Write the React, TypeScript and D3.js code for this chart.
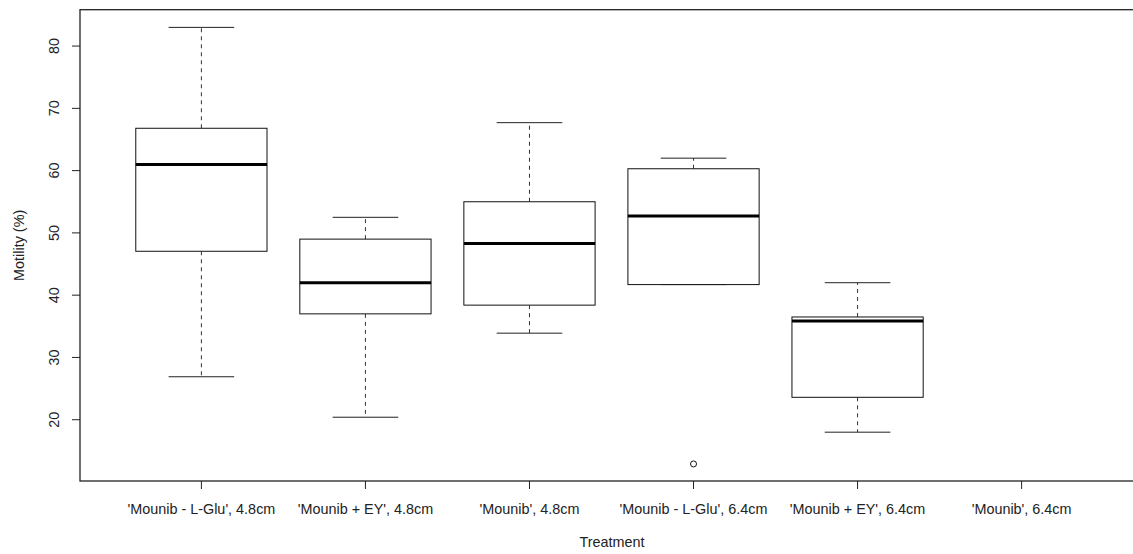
import * as d3 from "d3";

const categories = [
  "'Mounib - L-Glu', 4.8cm",
  "'Mounib + EY', 4.8cm",
  "'Mounib', 4.8cm",
  "'Mounib - L-Glu', 6.4cm",
  "'Mounib + EY', 6.4cm",
  "'Mounib', 6.4cm",
];

// five-number summaries (null = no data for the group)
const lowerWhisker = [26.9, 20.4, 33.9, 41.7, 18.0, null];
const lowerHinge = [47.05, 37.0, 38.4, 41.7, 23.6, null];
const medians = [61.0, 42.0, 48.3, 52.7, 35.85, null];
const upperHinge = [66.8, 49.0, 55.0, 60.3, 36.5, null];
const upperWhisker = [83.0, 52.5, 67.7, 62.0, 42.0, null];
const outliers = [[], [], [], [12.9], [], []];

const yTicks = [20, 30, 40, 50, 60, 70, 80];

const W = 1133;
const H = 554;
const FONT = "'Liberation Sans', Arial, sans-serif";
const FS = 14.4;

export default function App() {
  const x = d3.scaleLinear().domain([0.26, 6.74]).range([80, 1143]);
  const y = d3.scaleLinear().domain([10.16, 85.84]).range([481, 9.7]);
  const half = (x(1.4) - x(1)) ;
  const capHalf = half / 2;
  const plotLeft = x(0.26);
  const plotTop = y(85.84);
  const plotBottom = y(10.16);

  return (
    <svg
      width={W}
      height={H}
      style={{ position: "fixed", left: 0, top: 0, background: "#fff" }}
      fontFamily={FONT}
    >
      <rect x={0} y={0} width={W} height={H} fill="#fff" />
      {/* boxes */}
      {categories.map((c, i) => {
        const cx = x(i + 1);
        const lw = lowerWhisker[i];
        const lh = lowerHinge[i];
        const md = medians[i];
        const uh = upperHinge[i];
        const uw = upperWhisker[i];
        return (
          <g key={c}>
            {lw != null && lh != null && md != null && uh != null && uw != null && (
              <>
                <line x1={cx} x2={cx} y1={y(uh)} y2={y(uw)} stroke="#333" strokeDasharray="4,4" />
                <line x1={cx} x2={cx} y1={y(lh)} y2={y(lw)} stroke="#333" strokeDasharray="4,4" />
                <line x1={cx - capHalf} x2={cx + capHalf} y1={y(uw)} y2={y(uw)} stroke="#222" />
                <line x1={cx - capHalf} x2={cx + capHalf} y1={y(lw)} y2={y(lw)} stroke="#222" />
                <rect
                  x={cx - half}
                  y={y(uh)}
                  width={half * 2}
                  height={y(lh) - y(uh)}
                  fill="#fff"
                  stroke="#111"
                />
                <line x1={cx - half} x2={cx + half} y1={y(md)} y2={y(md)} stroke="#000" strokeWidth={3} />
              </>
            )}
            {outliers[i].map((o, j) => (
              <circle key={j} cx={cx} cy={y(o)} r={3} fill="none" stroke="#111" />
            ))}
          </g>
        );
      })}

      {/* frame */}
      <rect
        x={plotLeft}
        y={plotTop}
        width={x(6.74) - plotLeft}
        height={plotBottom - plotTop}
        fill="none"
        stroke="#222"
        strokeWidth={1.3}
      />

      {/* y axis */}
      {yTicks.map((t) => (
        <g key={t}>
          <line x1={plotLeft - 8} x2={plotLeft} y1={y(t)} y2={y(t)} stroke="#222" />
          <text
            transform={`translate(54,${y(t)}) rotate(-90)`}
            textAnchor="middle"
            dominantBaseline="central"
            fontSize={FS}
            fill="#222"
          >
            {t}
          </text>
        </g>
      ))}

      {/* x axis */}
      {categories.map((c, i) => (
        <g key={c}>
          <line x1={x(i + 1)} x2={x(i + 1)} y1={plotBottom} y2={plotBottom + 8} stroke="#222" />
          <text
            x={x(i + 1)}
            y={509}
            textAnchor="middle"
            dominantBaseline="central"
            fontSize={FS}
            fill="#222"
          >
            {c}
          </text>
        </g>
      ))}

      <text x={612} y={542} textAnchor="middle" dominantBaseline="central" fontSize={FS} fill="#222">
        Treatment
      </text>
      <text
        transform={`translate(19,${(plotTop + plotBottom) / 2}) rotate(-90)`}
        textAnchor="middle"
        dominantBaseline="central"
        fontSize={FS}
        fill="#222"
      >
        Motility (%)
      </text>
    </svg>
  );
}
